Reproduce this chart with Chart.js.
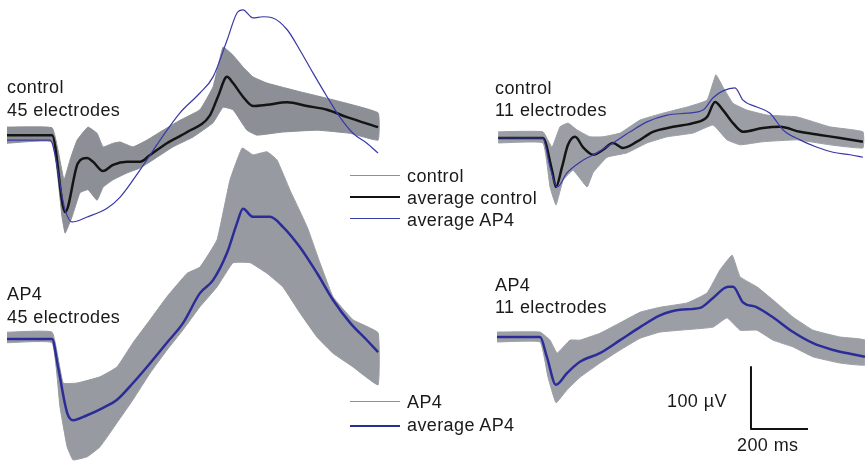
<!DOCTYPE html>
<html>
<head>
<meta charset="utf-8">
<script src="https://cdn.jsdelivr.net/npm/chart.js@4"></script>
<style>
  html, body { margin: 0; padding: 0; background: #ffffff; }
  #wrap { position: relative; width: 865px; height: 464px; overflow: hidden; background: #fff; }
  #chart { position: absolute; left: 0; top: 0; }
  .t { position: absolute; font-family: "Liberation Sans", Arial, sans-serif; font-size: 18px; line-height: 18px;
       color: #1a1a1a; letter-spacing: 0.4px; white-space: nowrap; }
  .lg { position: absolute; width: 50px; height: 0; }
</style>
</head>
<body>
<div id="wrap">
  <canvas id="chart" width="865" height="464"></canvas>

  <div class="t" style="left:7px;top:78px">control</div>
  <div class="t" style="left:7px;top:101px">45 electrodes</div>
  <div class="t" style="left:7px;top:285px">AP4</div>
  <div class="t" style="left:7px;top:308px">45 electrodes</div>
  <div class="t" style="left:495px;top:79px">control</div>
  <div class="t" style="left:495px;top:101px">11 electrodes</div>
  <div class="t" style="left:495px;top:276px">AP4</div>
  <div class="t" style="left:495px;top:298px">11 electrodes</div>

  <div class="lg" style="left:350px;top:175px;border-top:1px solid #7f95a3"></div>
  <div class="t" style="left:407px;top:167px">control</div>
  <div class="lg" style="left:350px;top:196px;border-top:2px solid #111"></div>
  <div class="t" style="left:407px;top:189px">average control</div>
  <div class="lg" style="left:350px;top:218px;border-top:1px solid #3a3aa8"></div>
  <div class="t" style="left:407px;top:211px">average AP4</div>

  <div class="lg" style="left:350px;top:401px;border-top:1px solid #7f95a3"></div>
  <div class="t" style="left:407px;top:393px">AP4</div>
  <div class="lg" style="left:350px;top:425px;border-top:2px solid #2c2c98"></div>
  <div class="t" style="left:407px;top:416px">average AP4</div>

  <div class="t" style="left:667px;top:392px">100 µV</div>
  <div class="t" style="left:737px;top:436px">200 ms</div>
</div>

<script>
// ---- Data (time in ms from trace start, voltage in µV relative to baseline) ----
// Panel A: control, 45 electrodes
const aUpperT = [0,158,179,200,221,246,284,316,337,372,397,442,491,537,607,677,723,758,793,828,863,912,1028,1144,1302];
const aUpperV = [16,15,-21,-69,-37,-5,16,6,-16,-10,-8,-16,-5,8,27,44,81,145,132,113,97,87,73,60,39];
const aLowerT = [0,158,193,204,228,256,284,316,337,372,421,467,512,582,653,723,758,793,842,877,968,1088,1204,1302];
const aLowerV = [-10,-8,-129,-155,-129,-90,-85,-102,-81,-69,-58,-50,-37,-16,0,23,48,44,11,3,8,11,6,-5];
const aAvgCtrlT = [0,158,204,249,281,302,337,372,421,467,502,561,632,712,740,772,793,828,863,912,983,1053,1123,1193,1302];
const aAvgCtrlV = [3,3,-121,-42,-34,-40,-55,-45,-40,-40,-29,-10,8,35,65,97,87,65,50,52,56,50,44,32,16];
const aAvgAP4T = [0,151,204,228,281,351,397,467,537,607,677,723,772,807,828,863,898,933,983,1028,1074,1123,1168,1214,1263,1302];
const aAvgAP4V = [-5,-5,-118,-137,-129,-115,-97,-53,-5,39,71,97,156,200,205,192,194,192,173,140,103,65,32,6,-10,-26];

// Panel B: control, 11 electrodes
const bUpperT = [4,161,193,221,249,281,326,372,432,502,582,667,737,768,793,828,877,947,1053,1168,1284];
const bUpperV = [10,10,-15,18,24,13,2,2,8,29,40,50,61,102,82,56,45,37,34,18,10];
const bLowerT = [4,161,186,207,232,267,316,337,386,456,526,597,688,758,807,853,933,1053,1168,1284];
const bLowerV = [-8,-8,-79,-108,-68,-52,-79,-56,-31,-24,-8,2,8,21,-3,-11,-6,-3,-11,-16];
const bAvgCtrlT = [4,161,193,207,228,249,274,302,337,372,407,442,491,547,618,688,737,765,793,828,863,933,993,1063,1133,1204,1284];
const bAvgCtrlV = [0,0,-52,-79,-47,-11,2,-15,-27,-19,-8,-16,-6,10,18,24,34,58,45,24,10,16,18,10,5,0,-6];
const bAvgAP4T = [4,161,186,211,246,291,351,407,467,526,597,667,723,758,793,835,863,912,958,1004,1063,1123,1179,1239,1284];
const bAvgAP4V = [0,0,-47,-79,-56,-39,-24,-8,10,26,37,40,45,65,76,81,61,50,40,13,-3,-15,-23,-27,-31];

// Panel C: AP4, 45 electrodes
const cUpperT = [0,158,197,246,326,386,442,502,561,632,677,737,782,825,863,912,947,993,1053,1098,1144,1214,1302];
const cUpperV = [11,11,-71,-71,-61,-45,-6,31,68,106,116,160,256,308,297,302,289,240,181,123,68,31,10];
const cLowerT = [0,158,186,211,232,281,326,386,442,502,561,618,677,737,793,853,912,968,1028,1088,1144,1214,1302];
const cLowerV = [-6,-6,-110,-174,-195,-190,-174,-135,-98,-55,-18,15,52,84,123,123,106,84,42,3,-23,-45,-74];
const cAvgAP4T = [0,158,179,211,232,281,337,386,442,502,561,618,677,723,772,807,828,863,923,968,1028,1088,1144,1204,1263,1302];
const cAvgAP4V = [0,0,-45,-119,-131,-123,-111,-98,-71,-39,-6,26,74,95,139,187,210,197,197,181,148,106,63,26,-2,-21];

// Panel D: AP4, 11 electrodes
const dUpperT = [0,151,186,211,256,291,361,432,502,572,667,737,782,825,853,912,968,1039,1109,1204,1291];
const dUpperV = [8,8,-5,-26,-5,-5,6,23,40,48,55,71,108,132,97,81,60,32,11,0,-5];
const dLowerT = [0,151,179,207,246,291,361,432,502,572,642,758,807,853,912,968,1039,1109,1204,1291];
const dLowerV = [-8,-8,-65,-106,-85,-65,-42,-21,-2,8,11,16,31,11,11,-5,-16,-32,-42,-45];
const dAvgAP4T = [0,151,175,207,246,291,361,432,502,572,642,712,758,811,828,863,912,968,1039,1109,1179,1239,1291];
const dAvgAP4V = [0,0,-32,-77,-58,-40,-26,-5,16,35,44,47,63,81,81,56,48,32,8,-10,-21,-27,-32];

// Scale bar values
const scaleBarMs = 200;
const scaleBarUV = 100;

// ---- Layout (page placement in chart units: ms horizontally, µV vertically) ----
const PX_PER_MS = 0.285, PX_PER_UV = 0.62;
const X_MAX = 865 / PX_PER_MS, Y_MAX = 464 / PX_PER_UV;
const origin = {
  A: { x: 24.6,   y: 527.4 },
  B: { x: 1743.9, y: 525.8 },
  C: { x: 24.6,   y: 201.6 },
  D: { x: 1743.9, y: 204.8 }
};
const scaleBarAt = { x: 2635, y: 56.5 };

const GRAY_DENSE = '#8c9096', GRAY_C = '#979ba1', GRAY_SPARSE = '#9b9fa5';
const BLACK = '#141414', BLUE = '#2c2c98', BLUE_THIN = '#3838a8';

function pts(T, V, o) { return T.map((t, i) => ({ x: o.x + t, y: o.y + V[i] })); }
function band(UT, UV, LT, LV, o) { return pts(UT, UV, o).concat(pts(LT, LV, o).reverse()); }
function bandDs(data, color) {
  return { data, fill: 'shape', backgroundColor: color, borderColor: color, borderWidth: 1, tension: 0.1, order: 5 };
}
function lineDs(data, color, w, order, smooth) {
  const ds = { data, fill: false, borderColor: color, borderWidth: w, order, tension: 0 };
  if (smooth) ds.cubicInterpolationMode = 'monotone';
  return ds;
}

const datasets = [
  bandDs(band(aUpperT, aUpperV, aLowerT, aLowerV, origin.A), GRAY_DENSE),
  lineDs(pts(aAvgCtrlT, aAvgCtrlV, origin.A), BLACK, 2.5, 2, true),
  lineDs(pts(aAvgAP4T, aAvgAP4V, origin.A), BLUE_THIN, 1.2, 1, true),

  bandDs(band(bUpperT, bUpperV, bLowerT, bLowerV, origin.B), GRAY_SPARSE),
  lineDs(pts(bAvgCtrlT, bAvgCtrlV, origin.B), BLACK, 2.5, 2, true),
  lineDs(pts(bAvgAP4T, bAvgAP4V, origin.B), BLUE_THIN, 1.2, 1, true),

  bandDs(band(cUpperT, cUpperV, cLowerT, cLowerV, origin.C), GRAY_C),
  lineDs(pts(cAvgAP4T, cAvgAP4V, origin.C), BLUE, 2.5, 1, true),

  bandDs(band(dUpperT, dUpperV, dLowerT, dLowerV, origin.D), GRAY_SPARSE),
  lineDs(pts(dAvgAP4T, dAvgAP4V, origin.D), BLUE, 2.5, 1, true),

  lineDs([
    { x: scaleBarAt.x, y: scaleBarAt.y + scaleBarUV },
    { x: scaleBarAt.x, y: scaleBarAt.y },
    { x: scaleBarAt.x + scaleBarMs, y: scaleBarAt.y }
  ], '#111', 2, 0, false)
];

new Chart(document.getElementById('chart'), {
  type: 'line',
  data: { datasets },
  options: {
    responsive: false,
    animation: false,
    devicePixelRatio: 1,
    layout: { padding: 0 },
    elements: { point: { radius: 0, hoverRadius: 0 }, line: { borderJoinStyle: 'round', capBezierPoints: true } },
    plugins: { legend: { display: false }, tooltip: { enabled: false } },
    events: [],
    scales: {
      x: { type: 'linear', display: false, min: 0, max: X_MAX },
      y: { type: 'linear', display: false, min: 0, max: Y_MAX }
    }
  }
});
</script>
</body>
</html>
